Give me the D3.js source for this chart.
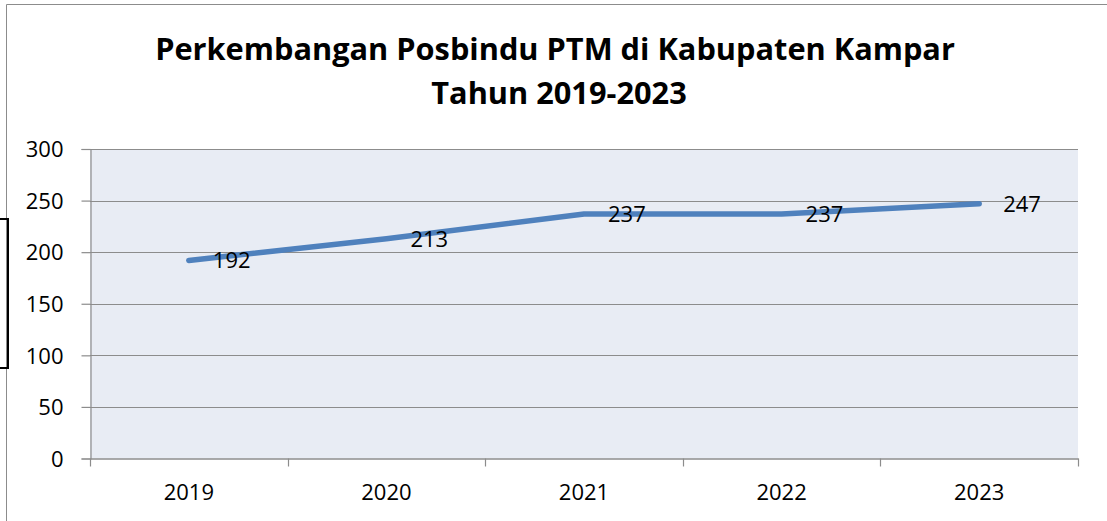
<!DOCTYPE html>
<html>
<head>
<meta charset="utf-8">
<script src="https://cdn.jsdelivr.net/npm/d3@7/dist/d3.min.js"></script>
<style>
  html, body { margin: 0; padding: 0; background: #fff; }
  svg { display: block; }
  text { font-family: "Open Sans", "Noto Sans", sans-serif; fill: #000; }
</style>
</head>
<body>
<svg id="chart" width="1107" height="521"></svg>
<script>
const titleLines = ["Perkembangan Posbindu PTM di Kabupaten Kampar", "Tahun 2019-2023"];
const years = ["2019", "2020", "2021", "2022", "2023"];
const values = [192, 213, 237, 237, 247];
const yTicks = [0, 50, 100, 150, 200, 250, 300];

const W = 1107, H = 521;
const plot = { left: 90, right: 1078, top: 149, bottom: 458.5 };
const svg = d3.select("#chart");

// outer chart border
svg.append("path")
  .attr("d", `M6.5,${H + 2} V4.5 H${W + 2}`)
  .attr("fill", "none").attr("stroke", "#8c8c8c").attr("stroke-width", 1);

// left black box fragment
svg.append("rect")
  .attr("x", -20).attr("y", 219).attr("width", 28).attr("height", 149)
  .attr("fill", "none").attr("stroke", "#000").attr("stroke-width", 2);

const x = d3.scaleBand().domain(years).range([plot.left, plot.right]).paddingInner(0).paddingOuter(0);
const y = d3.scaleLinear().domain([0, 300]).range([plot.bottom, plot.top]);

// plot background
svg.append("rect")
  .attr("x", plot.left).attr("y", plot.top)
  .attr("width", plot.right - plot.left).attr("height", plot.bottom - plot.top)
  .attr("fill", "#e8ecf4");

// gridlines
svg.append("g").selectAll("line").data(yTicks.filter(d => d > 0)).join("line")
  .attr("x1", plot.left).attr("x2", plot.right)
  .attr("y1", d => Math.round(y(d)) + 0.5).attr("y2", d => Math.round(y(d)) + 0.5)
  .attr("stroke", "#8c8c8c").attr("stroke-width", 1.2);

// y axis
const yAxis = d3.axisLeft(y).tickValues(yTicks).tickSize(9).tickPadding(18);
const gy = svg.append("g").attr("transform", `translate(${plot.left + 0.5},0)`).call(yAxis);
gy.select(".domain").attr("stroke", "#8c8c8c").attr("stroke-width", 1.2);
gy.selectAll(".tick line").attr("stroke", "#8c8c8c").attr("stroke-width", 1.2);
gy.selectAll(".tick text").style("font-size", "22px").attr("font-family", "Open Sans").attr("fill", "#000").attr("dy", "0.35em");

// x axis
const xAxis = d3.axisBottom(x).tickSize(0).tickPadding(26);
const gx = svg.append("g").attr("transform", `translate(0,${plot.bottom})`).call(xAxis);
gx.select(".domain").attr("stroke", "#8c8c8c").attr("stroke-width", 1.5);
gx.selectAll(".tick text").style("font-size", "22px").attr("font-family", "Open Sans").attr("fill", "#000");
// x boundary ticks
const bounds = years.map(d => x(d)).concat([x(years[years.length - 1]) + x.bandwidth()]);
gx.append("g").selectAll("line").data(bounds).join("line")
  .attr("x1", d => Math.round(d) + 0.5).attr("x2", d => Math.round(d) + 0.5)
  .attr("y1", 0).attr("y2", 8)
  .attr("stroke", "#8c8c8c").attr("stroke-width", 1.2);

// line
const cx = d => x(d) + x.bandwidth() / 2;
const line = d3.line().x((d, i) => cx(years[i])).y(d => y(d));
svg.append("path").datum(values)
  .attr("d", line)
  .attr("fill", "none").attr("stroke", "#4f81bd").attr("stroke-width", 5.5)
  .attr("stroke-linecap", "round").attr("stroke-linejoin", "round");

// data labels
svg.append("g").selectAll("text").data(values).join("text")
  .attr("x", (d, i) => cx(years[i]) + 24)
  .attr("y", d => y(d))
  .attr("dy", "0.36em")
  .style("font-size", "22px")
  .text(d => d);

// title
const title = svg.append("g");
const t1 = title.append("text").attr("x", 555).attr("y", 60).attr("text-anchor", "middle")
  .style("font-weight", "700").style("font-size", "30px").text(titleLines[0]);
const w1 = t1.node().getComputedTextLength();
const fs = 30 * 800 / w1;
t1.style("font-size", fs + "px");
title.append("text").attr("x", 559).attr("y", 104).attr("text-anchor", "middle")
  .style("font-weight", "700").style("font-size", fs + "px").text(titleLines[1]);
</script>
</body>
</html>
